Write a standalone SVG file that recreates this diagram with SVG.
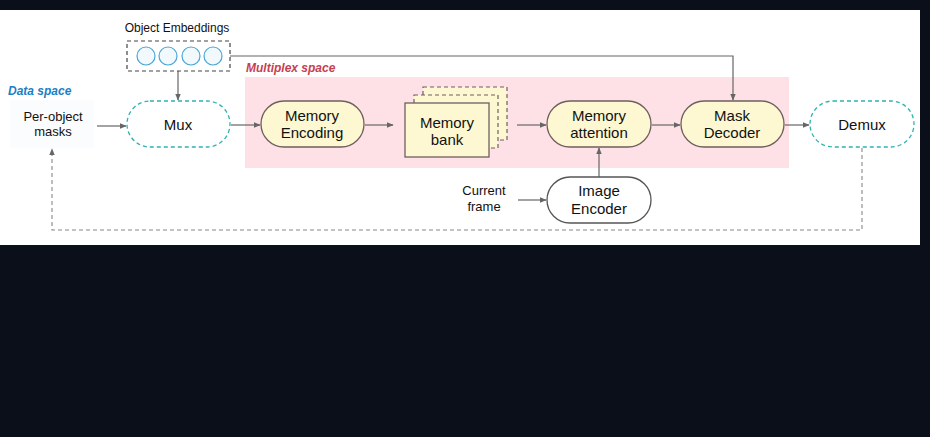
<svg xmlns="http://www.w3.org/2000/svg" width="930" height="437" viewBox="0 0 930 437">
<defs>
<style>
.t{font-family:"Liberation Sans",Arial,sans-serif;fill:#111;text-anchor:middle}
.n{font-size:15px}
.s{font-size:13px}
.y{fill:#fdf8d2;stroke:#6e5f5f;stroke-width:1.3}
.w{fill:#fff;stroke:#555;stroke-width:1.3}
.d{fill:#fff;stroke:#2fb3b0;stroke-width:1.3;stroke-dasharray:4 3}
.c{fill:none;stroke:#666;stroke-width:1.2}
.cd{fill:none;stroke:#888;stroke-width:1.1;stroke-dasharray:4 3}
</style>
<marker id="ah" viewBox="0 0 10 10" refX="9" refY="5" markerWidth="7" markerHeight="7" orient="auto" markerUnits="userSpaceOnUse">
<path d="M0,1 L10,5 L0,9 z" fill="#666"/>
</marker>
</defs>
<rect width="930" height="437" fill="#0b0f1a"/>
<rect x="0" y="10" width="920" height="235" fill="#fff"/>
<rect x="245" y="77" width="544" height="91" fill="#fde1e6"/>
<rect x="10" y="100" width="84" height="48" fill="#fbfcfd"/>
<text x="8" y="95" font-family="'Liberation Sans',Arial,sans-serif" font-size="12" font-weight="bold" font-style="italic" fill="#1b7fc4">Data space</text>
<text x="246" y="72" font-family="'Liberation Sans',Arial,sans-serif" font-size="12" font-weight="bold" font-style="italic" fill="#c8404f">Multiplex space</text>

<g id="connectors">
<line class="c" x1="97" y1="126" x2="126" y2="126" marker-end="url(#ah)"/>
<line class="c" x1="178" y1="71" x2="178" y2="100" marker-end="url(#ah)"/>
<polyline class="c" points="230,56 733,56 733,100" marker-end="url(#ah)"/>
<line class="c" x1="231" y1="125" x2="260" y2="125" marker-end="url(#ah)"/>
<line class="c" x1="365" y1="125" x2="393" y2="125" marker-end="url(#ah)"/>
<line class="c" x1="517" y1="125" x2="546" y2="125" marker-end="url(#ah)"/>
<line class="c" x1="652" y1="125" x2="680" y2="125" marker-end="url(#ah)"/>
<line class="c" x1="785" y1="125" x2="809" y2="125" marker-end="url(#ah)"/>
<line class="c" x1="518" y1="200" x2="546" y2="200" marker-end="url(#ah)"/>
<line class="c" x1="599" y1="177" x2="599" y2="148" marker-end="url(#ah)"/>
<polyline class="cd" points="862,148 862,230 52,230 52,149" marker-end="url(#ah)"/>
</g>

<g id="object-embeddings">
<text class="t" x="177" y="32" font-size="12">Object Embeddings</text>
<rect x="127" y="41" width="103" height="30" fill="none" stroke="#444" stroke-width="1.2" stroke-dasharray="4 3"/>
<g fill="#f2f9fd" stroke="#4aa6d6" stroke-width="1.2">
<circle cx="146" cy="56" r="9"/>
<circle cx="168" cy="56" r="9"/>
<circle cx="191" cy="56" r="9"/>
<circle cx="213" cy="56" r="9"/>
</g>
</g>

<g id="per-object-masks">
<text class="t s" x="53" y="121">Per-object</text>
<text class="t s" x="53" y="136">masks</text>
</g>

<g id="mux">
<rect class="d" x="127" y="101" width="103" height="46" rx="23"/>
<text class="t n" x="178" y="130">Mux</text>
</g>

<g id="memory-encoding">
<rect class="y" x="261" y="101" width="103" height="46" rx="23"/>
<text class="t n" x="312" y="121">Memory</text>
<text class="t n" x="312" y="138">Encoding</text>
</g>

<g id="memory-bank">
<rect x="423" y="87" width="84" height="53" fill="#fdf8d2" stroke="#6e5f5f" stroke-width="1.2" stroke-dasharray="4 3"/>
<rect x="414" y="95" width="84" height="53" fill="#fdf8d2" stroke="#6e5f5f" stroke-width="1.2" stroke-dasharray="4 3"/>
<rect x="405" y="103" width="84" height="54" fill="#fdf8d2" stroke="#6e5f5f" stroke-width="1.3"/>
<text class="t n" x="447" y="128">Memory</text>
<text class="t n" x="447" y="145">bank</text>
</g>

<g id="memory-attention">
<rect class="y" x="547" y="101" width="104" height="46" rx="23"/>
<text class="t n" x="599" y="121">Memory</text>
<text class="t n" x="599" y="138">attention</text>
</g>

<g id="mask-decoder">
<rect class="y" x="681" y="101" width="103" height="46" rx="23"/>
<text class="t n" x="732" y="121">Mask</text>
<text class="t n" x="732" y="138">Decoder</text>
</g>

<g id="demux">
<rect class="d" x="810" y="101" width="104" height="46" rx="23"/>
<text class="t n" x="862" y="130">Demux</text>
</g>

<g id="current-frame">
<text class="t s" x="484" y="195">Current</text>
<text class="t s" x="484" y="211">frame</text>
</g>

<g id="image-encoder">
<rect class="w" x="547" y="177" width="104" height="46" rx="23"/>
<text class="t n" x="599" y="196">Image</text>
<text class="t n" x="599" y="214">Encoder</text>
</g>
</svg>
